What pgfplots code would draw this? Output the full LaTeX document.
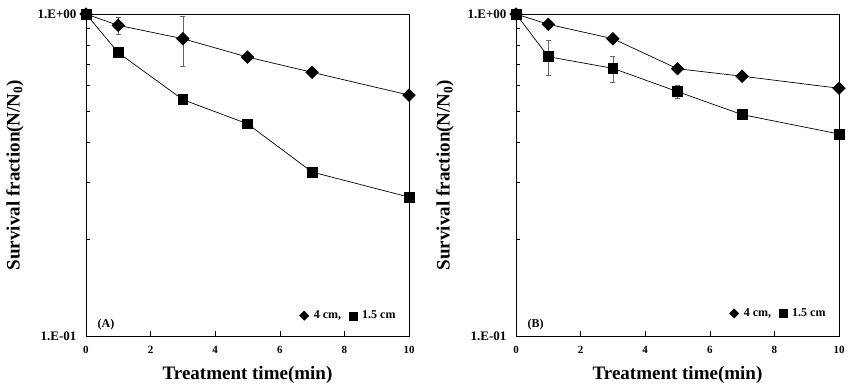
\documentclass[border=0pt]{standalone}
\usepackage{pgfplots}
\pgfplotsset{compat=1.18}
\usepackage{fontspec}
\setmainfont{Liberation Serif}

\begin{document}
\begin{tikzpicture}
\useasboundingbox (0,0) rectangle (868pt,390pt);
% Panel A
\begin{axis}[at={(86pt,54pt)}, anchor=south west,
  scale only axis, width=323pt, height=322pt,
  xmin=0, xmax=10, ymode=log, ymin=0.1, ymax=1,
  xtick={0,2,4,6,8,10}, ytick={0.1,1}, yticklabels={1.E-01,1.E+00},
  minor ytick={0.2,0.3,0.4,0.5,0.6,0.7,0.8,0.9},
  tick pos=left, tick align=inside,
  major tick length=5pt, minor tick length=4pt,
  tick style={black, line width=0.6pt},
  axis line style={line width=0.8pt},
  clip=false,
  /pgf/number format/assume math mode=true,
  xticklabel style={font=\fontsize{11}{12}\selectfont\bfseries, yshift=-7pt},
  yticklabel style={font=\fontsize{13}{14}\selectfont\bfseries, xshift=-6pt},
  xlabel={Treatment time(min)},
  ylabel={Survival fraction(N/N\textsubscript{0})},
  label style={font=\fontsize{19}{22}\selectfont\bfseries},
  xlabel style={at={(axis description cs:0.5,-0.121)}, anchor=center},
  ylabel style={at={(axis description cs:-0.22,0.5)}, anchor=center},
  legend columns=2,
  legend style={draw=none, fill=none, at={(axis description cs:0.965,0.063)}, anchor=east,
    font=\fontsize{12}{13}\selectfont\bfseries, inner sep=0pt,
    /tikz/every odd column/.append style={column sep=3pt},
    /tikz/every even column/.append style={column sep=6pt}},
  legend image code/.code={\draw[#1] plot coordinates {(0.12cm,0cm)};},
]
\addlegendimage{black, mark=square*, mark size=3.3pt, mark options={rotate=45, solid, fill=black}}
\addlegendentry{4 cm,}
\addlegendimage{black, mark=square*, mark size=4pt, mark options={solid, fill=black}}
\addlegendentry{1.5 cm}
\addplot[forget plot, black, line width=0.7pt, mark=square*, mark size=4.4pt, mark options={rotate=45, solid, fill=black},
  error bars/.cd, y dir=both, y explicit,
  error bar style={gray!80!black, line width=0.5pt},
  error mark options={gray!80!black, line width=0.5pt, mark size=2.5pt, rotate=90}] coordinates {
 (0,1.0) +- (0,0)
 (1,0.922) +- (0,0.054)
 (3,0.838) +- (0,0.148)
 (5,0.735) +- (0,0)
 (7,0.659) +- (0,0)
 (10,0.560) +- (0,0)
};
\addplot[forget plot, black, line width=0.7pt, mark=square*, mark size=4.9pt, mark options={solid, fill=black}] coordinates {
 (0,1.0) (1,0.758) (3,0.542) (5,0.456) (7,0.323) (10,0.270)
};
\node[anchor=west, font=\fontsize{12}{14}\selectfont\bfseries] at (axis description cs:0.025,0.035) {(A)};
\end{axis}
% Panel B
\begin{axis}[at={(516pt,54pt)}, anchor=south west,
  scale only axis, width=323pt, height=322pt,
  xmin=0, xmax=10, ymode=log, ymin=0.1, ymax=1,
  xtick={0,2,4,6,8,10}, ytick={0.1,1}, yticklabels={1.E-01,1.E+00},
  minor ytick={0.2,0.3,0.4,0.5,0.6,0.7,0.8,0.9},
  tick pos=left, tick align=inside,
  major tick length=5pt, minor tick length=4pt,
  tick style={black, line width=0.6pt},
  axis line style={line width=0.8pt},
  clip=false,
  /pgf/number format/assume math mode=true,
  xticklabel style={font=\fontsize{11}{12}\selectfont\bfseries, yshift=-7pt},
  yticklabel style={font=\fontsize{13}{14}\selectfont\bfseries, xshift=-6pt},
  xlabel={Treatment time(min)},
  ylabel={Survival fraction(N/N\textsubscript{0})},
  label style={font=\fontsize{19}{22}\selectfont\bfseries},
  xlabel style={at={(axis description cs:0.5,-0.121)}, anchor=center},
  ylabel style={at={(axis description cs:-0.22,0.5)}, anchor=center},
  legend columns=2,
  legend style={draw=none, fill=none, at={(axis description cs:0.965,0.07)}, anchor=east,
    font=\fontsize{12}{13}\selectfont\bfseries, inner sep=0pt,
    /tikz/every odd column/.append style={column sep=3pt},
    /tikz/every even column/.append style={column sep=6pt}},
  legend image code/.code={\draw[#1] plot coordinates {(0.12cm,0cm)};},
]
\addlegendimage{black, mark=square*, mark size=3.3pt, mark options={rotate=45, solid, fill=black}}
\addlegendentry{4 cm,}
\addlegendimage{black, mark=square*, mark size=4pt, mark options={solid, fill=black}}
\addlegendentry{1.5 cm}
\addplot[forget plot, black, line width=0.7pt, mark=square*, mark size=4.4pt, mark options={rotate=45, solid, fill=black},
  error bars/.cd, y dir=both, y explicit,
  error bar style={gray!80!black, line width=0.5pt},
  error mark options={gray!80!black, line width=0.5pt, mark size=2.5pt, rotate=90}] coordinates {
 (0,1.0) +- (0,0)
 (1,0.929) +- (0,0)
 (3,0.838) +- (0,0)
 (5,0.676) +- (0,0.008)
 (7,0.641) +- (0,0.015)
 (10,0.588) +- (0,0)
};
\addplot[forget plot, black, line width=0.7pt, mark=square*, mark size=4.9pt, mark options={solid, fill=black},
  error bars/.cd, y dir=both, y explicit,
  error bar style={gray!80!black, line width=0.5pt},
  error mark options={gray!80!black, line width=0.5pt, mark size=2.5pt, rotate=90}] coordinates {
 (0,1.0) +- (0,0)
 (1,0.737) +- (0,0.09)
 (3,0.678) +- (0,0.063)
 (5,0.574) +- (0,0.027)
 (7,0.487) +- (0,0.016)
 (10,0.424) +- (0,0)
};
\node[anchor=west, font=\fontsize{12}{14}\selectfont\bfseries] at (axis description cs:0.025,0.035) {(B)};
\end{axis}
\end{tikzpicture}
\end{document}
